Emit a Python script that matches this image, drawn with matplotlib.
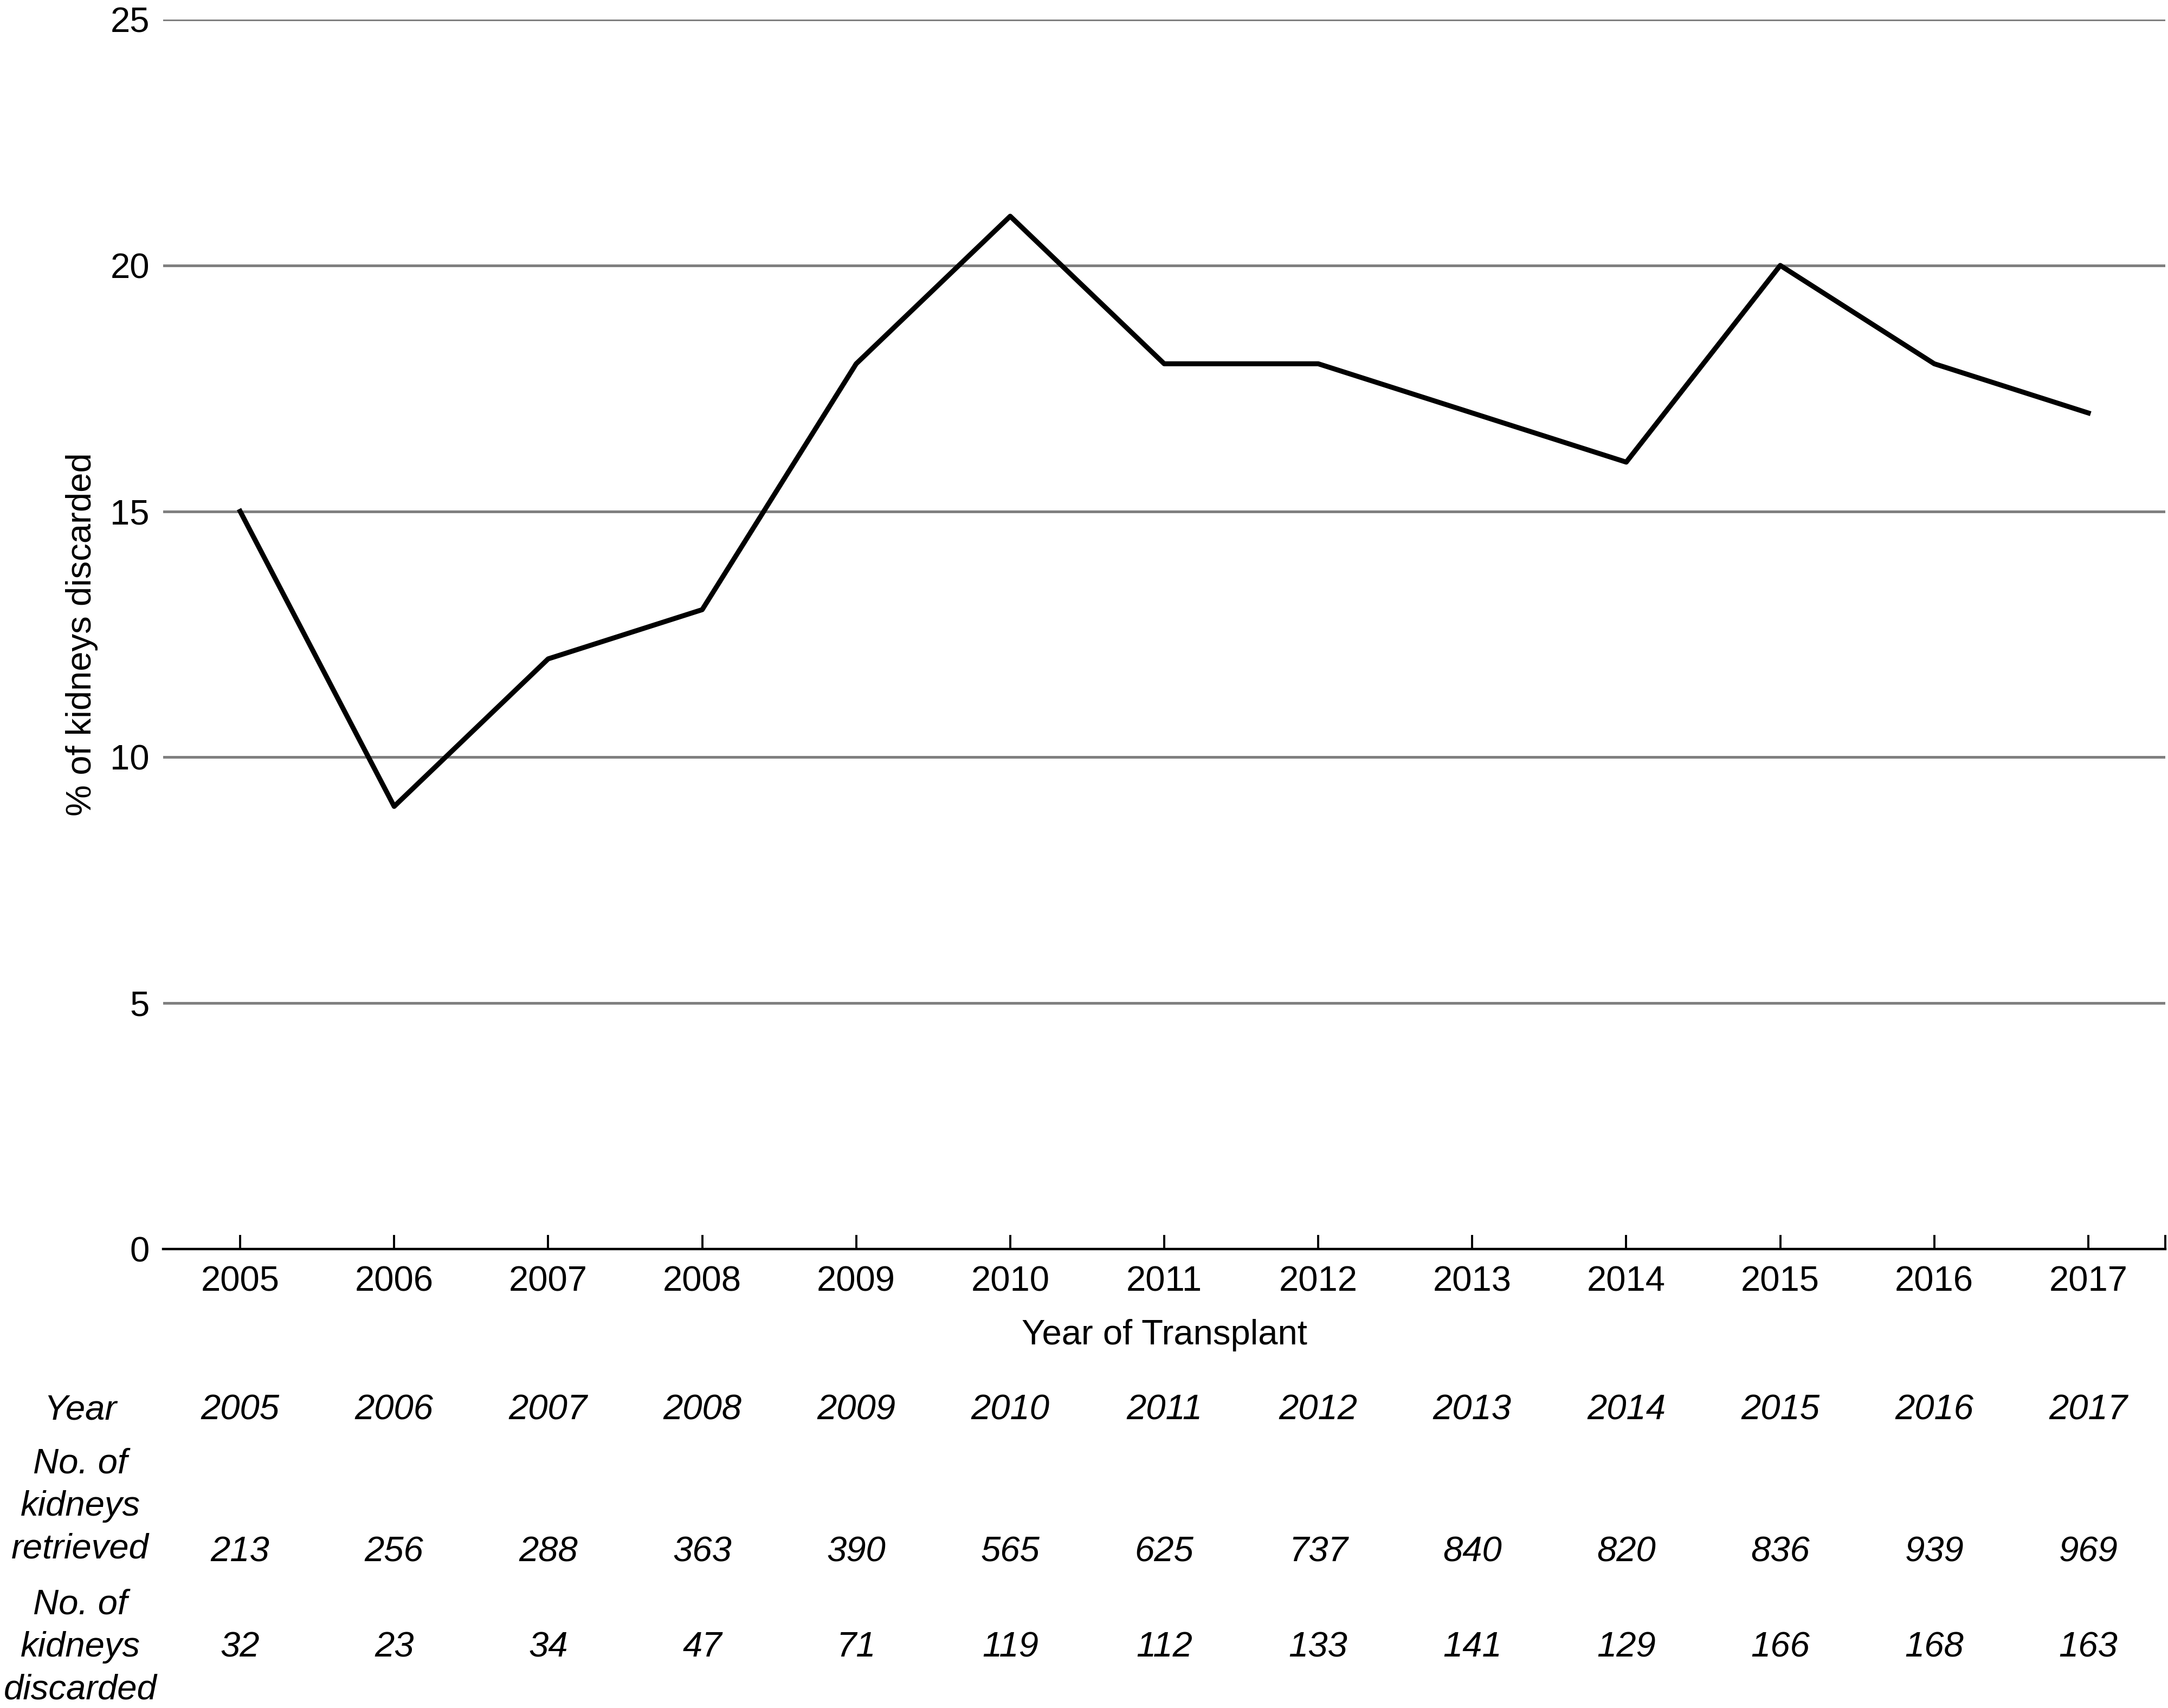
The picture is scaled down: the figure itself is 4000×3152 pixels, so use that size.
import matplotlib
matplotlib.use("Agg")
import matplotlib.pyplot as plt
import matplotlib.transforms as mtransforms

plt.rcParams['font.family'] = ['Liberation Sans', 'DejaVu Sans']

years = ["2005", "2006", "2007", "2008", "2009", "2010", "2011",
         "2012", "2013", "2014", "2015", "2016", "2017"]
pct_discarded = [15, 9, 12, 13, 18, 21, 18, 18, 17, 16, 20, 18, 17]
kidneys_retrieved = [213, 256, 288, 363, 390, 565, 625, 737, 840, 820, 836, 939, 969]
kidneys_discarded = [32, 23, 34, 47, 71, 119, 112, 133, 141, 129, 166, 168, 163]
y_ticks = [0, 5, 10, 15, 20, 25]

FS = 23.5

fig = plt.figure(figsize=(20, 15.76), dpi=200)
ax = fig.add_axes([301 / 4000, 1 - 2305 / 3152, (3995 - 301) / 4000, (2305 - 36) / 3152])

x = list(range(len(years)))
ax.plot(x, pct_discarded, color="black", linewidth=3.3, zorder=3)

ax.set_xlim(-0.5, len(years) - 0.5)
ax.set_ylim(0, 25)
ax.set_yticks(y_ticks)
ax.set_xticks(x, labels=years)
ax.set_xticks([len(years) - 0.5], minor=True)

ax.yaxis.grid(True, color="#808080", linewidth=1.8)
ax.set_axisbelow(True)
for side in ["top", "right", "left"]:
    ax.spines[side].set_visible(False)
ax.spines["bottom"].set_linewidth(1.6)
ax.spines["bottom"].set_zorder(4)

ax.tick_params(axis="y", length=0, pad=9, labelsize=FS)
ax.tick_params(axis="x", which="both", direction="in", length=9.5, width=1.4,
               pad=11, labelsize=FS)

ax.set_xlabel("Year of Transplant", fontsize=FS, labelpad=14)
ax.set_ylabel("% of kidneys discarded", fontsize=FS, labelpad=8)

# table under the chart: x in data units, y in figure fraction
trans = mtransforms.blended_transform_factory(ax.transData, fig.transFigure)
label_x = 148 / 4000
row_year = 1 - 2602 / 3152
row_retr = 1 - 2864 / 3152
row_disc = 1 - 3040 / 3152

fig.text(label_x, row_year, "Year", fontsize=FS, style="italic", ha="center", va="center")
fig.text(label_x, 1 - 2780 / 3152, "No. of\nkidneys\nretrieved", fontsize=FS,
         style="italic", ha="center", va="center", linespacing=1.4)
fig.text(label_x, row_disc, "No. of\nkidneys\ndiscarded", fontsize=FS,
         style="italic", ha="center", va="center", linespacing=1.4)

for i in x:
    ax.text(i, row_year, years[i], transform=trans, fontsize=FS, style="italic",
            ha="center", va="center")
    ax.text(i, row_retr, str(kidneys_retrieved[i]), transform=trans, fontsize=FS,
            style="italic", ha="center", va="center")
    ax.text(i, row_disc, str(kidneys_discarded[i]), transform=trans, fontsize=FS,
            style="italic", ha="center", va="center")

fig.savefig("out.png", dpi=200)
